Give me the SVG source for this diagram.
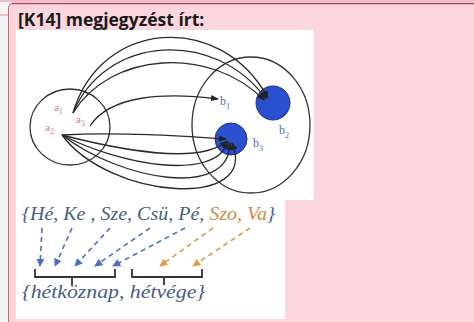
<svg xmlns="http://www.w3.org/2000/svg" width="474" height="322" viewBox="0 0 474 322">
<style>
.ln{fill:none;stroke:#2b2b2b;stroke-width:1.3}
.set{fill:none;stroke:#333;stroke-width:1.3}
.dot{fill:#2a4fcf;stroke:#1b2f8a;stroke-width:1}
.la{font-family:"Liberation Serif",serif;font-size:11px;fill:#d27a9c}
.lb{font-family:"Liberation Serif",serif;font-size:12px;fill:#4d6cc4}
.t{font-family:"Liberation Serif",serif;font-style:italic;font-size:18px}
.bl{fill:none;stroke:#4a6fc8;stroke-width:1.6;stroke-dasharray:5 4}
.or{fill:none;stroke:#e29a4a;stroke-width:1.6;stroke-dasharray:5 4}
.br{fill:none;stroke:#3a2f3a;stroke-width:1.8}
</style>
<defs>
<marker id="ah" viewBox="0 0 10 10" refX="9" refY="5" markerWidth="6" markerHeight="6" orient="auto"><path d="M0,1 L10,5 L0,9 z" fill="#222"/></marker>
<marker id="ab" viewBox="0 0 10 10" refX="9" refY="5" markerWidth="5" markerHeight="5" orient="auto"><path d="M0,0 L10,5 L0,10 z" fill="#4a6fc8"/></marker>
<marker id="ao" viewBox="0 0 10 10" refX="9" refY="5" markerWidth="5" markerHeight="5" orient="auto"><path d="M0,0 L10,5 L0,10 z" fill="#e29a4a"/></marker>
</defs>
<rect x="0" y="0" width="474" height="322" fill="#f3f3f3"/>
<line x1="0" y1="15" x2="8" y2="15" stroke="#e08aa0" stroke-width="1"/>
<line x1="0" y1="1" x2="474" y2="1" stroke="#d98ea0" stroke-width="1"/>
<rect x="8.5" y="3.5" width="470" height="330" rx="4" fill="#fbd6de" stroke="#d1607c" stroke-width="1"/>
<line x1="12" y1="3.5" x2="474" y2="3.5" stroke="#c0405e" stroke-width="1.5"/>
<g id="title"><text x="18" y="26" font-family="Open Sans, sans-serif" font-weight="bold" font-size="17.5" fill="#1a1a1a">[K14] megjegyzést írt:</text></g>
<g id="image1">
<rect x="16" y="30" width="298" height="170" fill="#ffffff"/>
<g id="setA"><ellipse class="set" cx="70" cy="127" rx="40" ry="38"/>
<text class="la" x="54" y="111">a<tspan font-size="8" dy="3">1</tspan></text>
<text class="la" x="76" y="123">a<tspan font-size="8" dy="3">3</tspan></text>
<text class="la" x="45" y="131">a<tspan font-size="8" dy="3">2</tspan></text></g>
<g id="setB"><ellipse class="set" cx="251" cy="125" rx="59" ry="68"/>
<circle class="dot" cx="273" cy="103" r="17"/>
<circle class="dot" cx="231" cy="139" r="16"/>
<text class="lb" x="220" y="105">b<tspan font-size="8" dy="4">1</tspan></text>
<text class="lb" x="279" y="134">b<tspan font-size="8" dy="4">2</tspan></text>
<text class="lb" x="253" y="147">b<tspan font-size="8" dy="4">3</tspan></text></g>
<g id="connectors1">
<path class="ln" d="M73,113 C100,20 220,10 268,98" marker-end="url(#ah)"/>
<path class="ln" d="M73,113 C105,35 215,28 266,99" marker-end="url(#ah)"/>
<path class="ln" d="M73,113 C110,52 210,45 264,100" marker-end="url(#ah)"/>
<path class="ln" d="M90,126 C110,95 165,92 218,99" marker-end="url(#ah)"/>
<path class="ln" d="M62,135 C120,132 180,136 226,139" marker-end="url(#ah)"/>
<path class="ln" d="M62,135 C120,150 200,165 227,141" marker-end="url(#ah)"/>
<path class="ln" d="M62,135 C120,165 215,182 228,142" marker-end="url(#ah)"/>
<path class="ln" d="M62,135 C120,180 230,200 230,143" marker-end="url(#ah)"/>
<path class="ln" d="M62,135 C110,200 260,210 232,143" marker-end="url(#ah)"/>
</g>
</g>
<g id="image2">
<rect x="16" y="200" width="269" height="119" fill="#ffffff"/>
<text class="t" x="22" y="220" fill="#4a5d86" textLength="253" lengthAdjust="spacingAndGlyphs">{Hé, Ke , Sze, Csü, Pé, <tspan fill="#d08a48">Szo, Va</tspan>}</text>
<g id="connectors2">
<path class="bl" d="M42,228 L40,266" marker-end="url(#ab)"/>
<path class="bl" d="M72,228 L55,266" marker-end="url(#ab)"/>
<path class="bl" d="M110,228 L75,266" marker-end="url(#ab)"/>
<path class="bl" d="M150,228 L95,266" marker-end="url(#ab)"/>
<path class="bl" d="M185,228 L113,266" marker-end="url(#ab)"/>
<path class="or" d="M213,228 L160,266" marker-end="url(#ao)"/>
<path class="or" d="M250,228 L193,266" marker-end="url(#ao)"/>
</g>
<path class="br" d="M35,269 V277 H115 V269 M72,277 V285"/>
<path class="br" d="M132,269 V277 H202 V269 M164,277 V285"/>
<text class="t" x="22" y="298" fill="#4a5d86" textLength="183" lengthAdjust="spacingAndGlyphs">{hétköznap, hétvége}</text>
</g>
</svg>
